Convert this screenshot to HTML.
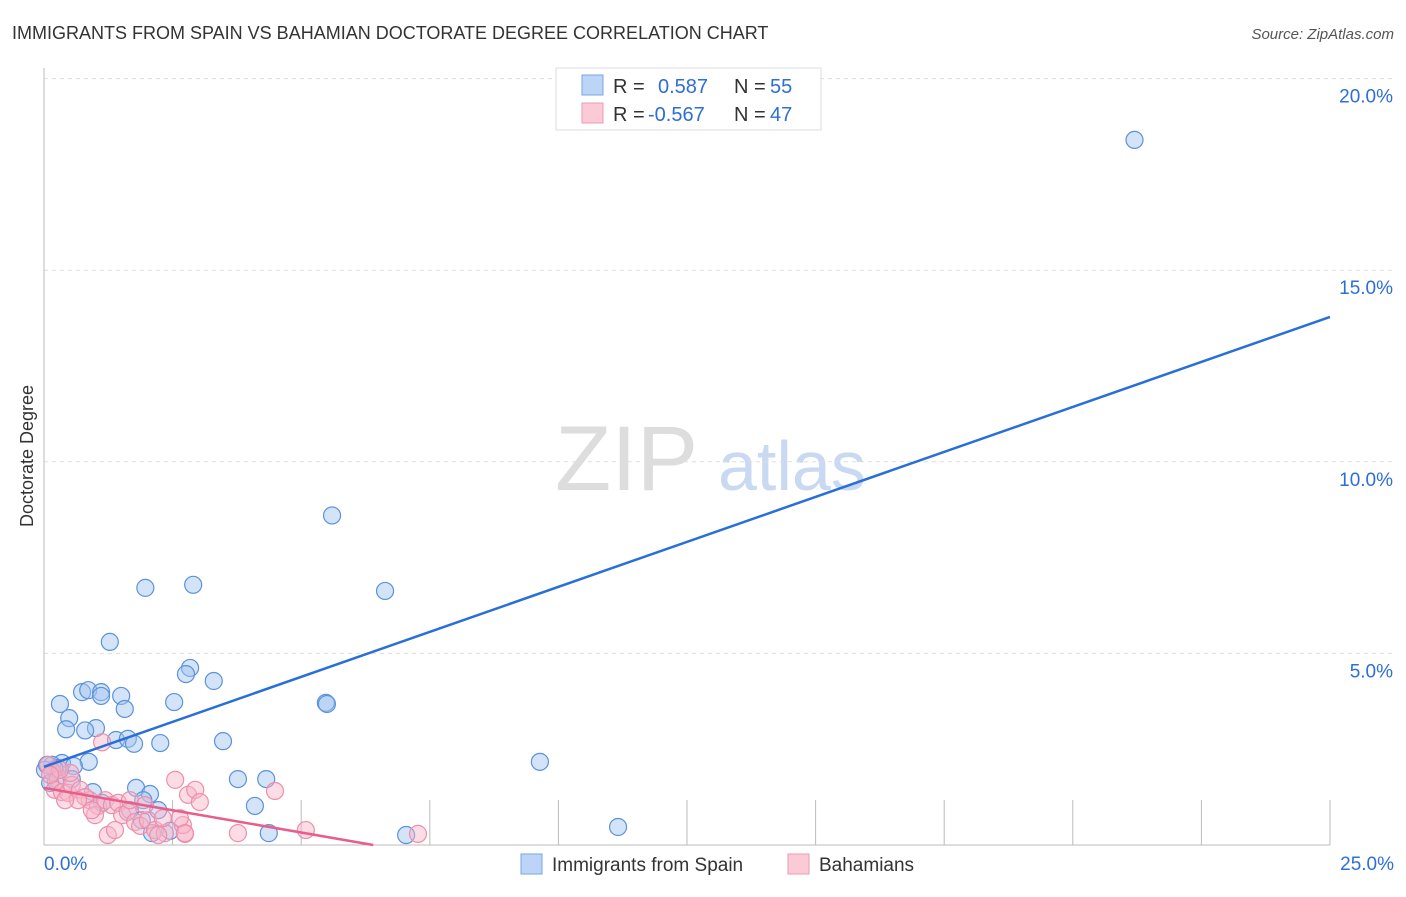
<!DOCTYPE html>
<html><head><meta charset="utf-8"><style>
body{margin:0;background:#fff;font-family:"Liberation Sans",sans-serif;}
svg text{font-family:"Liberation Sans",sans-serif;}
</style></head><body>
<svg id="chart" width="1406" height="892" viewBox="0 0 1406 892" xmlns="http://www.w3.org/2000/svg">
<text x="12" y="39" font-size="18" fill="#333">IMMIGRANTS FROM SPAIN VS BAHAMIAN DOCTORATE DEGREE CORRELATION CHART</text>
<text x="1394" y="39" font-size="15" fill="#555" font-style="italic" text-anchor="end">Source: ZipAtlas.com</text>
<text x="33" y="456" font-size="18" fill="#333" text-anchor="middle" transform="rotate(-90 33 456)">Doctorate Degree</text>
<g><text x="555" y="490" font-size="92" fill="#ddd" font-family="Liberation Serif,serif">ZIP</text><text x="718" y="490" font-size="70" fill="#c9d9f2">atlas</text></g>
<g id="grid"></g><g id="axes"></g><g id="marks"></g>
<g>
<rect x="556" y="68" width="265" height="62" fill="#fff" stroke="#ddd"/>
<rect x="582" y="75" width="21" height="20" fill="#bcd4f5" stroke="#7aa6e6"/>
<rect x="582" y="103" width="21" height="20" fill="#fbcad7" stroke="#ef9ab3"/>
<text x="613" y="93" font-size="20" fill="#333">R =</text><text x="658" y="93" font-size="20" fill="#2c6fd6">0.587</text>
<text x="734" y="93" font-size="20" fill="#333">N =</text><text x="770" y="93" font-size="20" fill="#2c6fd6">55</text>
<text x="613" y="121" font-size="20" fill="#333">R =</text><text x="648" y="121" font-size="20" fill="#2c6fd6">-0.567</text>
<text x="734" y="121" font-size="20" fill="#333">N =</text><text x="770" y="121" font-size="20" fill="#2c6fd6">47</text>
</g>
<g>
<rect x="521" y="854" width="21" height="20" fill="#bcd4f5" stroke="#7aa6e6"/>
<text x="552" y="871" font-size="19" fill="#333">Immigrants from Spain</text>
<rect x="788" y="854" width="21" height="20" fill="#fbcad7" stroke="#ef9ab3"/>
<text x="819" y="871" font-size="19" fill="#333">Bahamians</text>
</g>
</svg>
<script>
const xTicks=[0,5,10,15,20,25];
const yTicks=[5,10,15,20];
const yTickLabels=["5.0%","10.0%","15.0%","20.0%"];
const spainX=[21.2,5.6,2.9,1.97,6.63,1.28,2.84,2.76,3.3,5.48,5.5,0.31,0.74,0.86,1.11,1.11,1.5,1.57,2.53,0.49,1.01,0.8,0.43,1.4,1.63,1.75,2.26,3.48,0.87,0.35,0.16,0.27,0.58,0.23,0.54,0.95,1.79,2.06,3.77,4.32,9.64,1.67,4.1,1.93,2.22,11.16,1.9,2.45,2.1,4.37,7.04,1.13,0.21,0.02,0.12,0.06];
const spainY=[18.4,8.6,6.79,6.71,6.63,5.3,4.62,4.46,4.28,3.71,3.68,3.68,3.99,4.04,3.99,3.89,3.89,3.55,3.73,3.31,3.05,2.99,3.02,2.74,2.77,2.64,2.66,2.71,2.17,2.14,2.09,2.01,2.06,1.67,1.72,1.38,1.49,1.33,1.72,1.72,2.17,0.91,1.02,1.17,0.91,0.47,0.65,0.37,0.31,0.31,0.26,1.1,1.98,1.96,1.62,2.09];
const bahX=[0.08,0.16,0.27,0.21,0.35,0.47,0.54,0.7,0.89,1.05,1.19,1.32,1.44,1.52,1.63,1.77,1.87,2.02,2.16,2.35,2.55,2.8,2.94,3.03,3.77,4.49,5.09,7.27,1.24,2.22,2.74,2.31,2.7,1.13,0.99,0.51,0.8,0.31,0.66,1.38,1.67,1.96,2.64,2.74,0.12,0.41,0.93];
const bahY=[2.09,1.91,1.7,1.44,1.38,1.36,1.57,1.44,1.17,1.02,1.17,1.04,1.1,0.78,0.86,0.6,0.5,0.65,0.39,0.31,1.7,1.31,1.44,1.12,0.31,1.41,0.39,0.29,0.26,0.26,0.29,0.7,0.52,2.68,0.78,1.88,1.25,1.96,1.17,0.39,1.17,1.04,0.7,0.31,1.83,1.17,0.91];
const spainLine=[[0,2.04],[25,13.78]];
const bahLine=[[0,1.49],[6.4,0]];
const X0=44,X1=1330,Y0=845,YPX=38.32;
const sx=v=>X0+(X1-X0)*v/25;
const sy=v=>Y0-YPX*v;
const NS="http://www.w3.org/2000/svg";
function mk(t,a,p){const e=document.createElementNS(NS,t);for(const k in a)e.setAttribute(k,a[k]);p.appendChild(e);return e;}
const grid=document.getElementById('grid'),axes=document.getElementById('axes'),marks=document.getElementById('marks');
yTicks.forEach((v,i)=>{
 const l=mk('line',{x1:X0,x2:1394,y1:sy(v),y2:sy(v),stroke:'#ddd','stroke-dasharray':'4,4'},grid);
 
 
 const t=mk('text',{x:1393,y:sy(v)+24,'font-size':19,fill:'#2c6fd6','text-anchor':'end'},axes);
 t.textContent=yTickLabels[i];
 
 
});
const ax=mk('line',{x1:X0,x2:X0,y1:68,y2:Y0,stroke:'#bbb'},axes);


const bx=mk('line',{x1:X0,x2:X1,y1:Y0,y2:Y0,stroke:'#bbb'},axes);


for(let v=2.5;v<=25;v+=2.5){
 const tk=mk('line',{x1:sx(v),x2:sx(v),y1:Y0-45,y2:Y0,stroke:'#bbb'},axes);
 
 
}
[[0,'0.0%','start',44],[25,'25.0%','end',1394]].forEach(a=>{
 const t=mk('text',{x:a[3],y:870,'font-size':19,fill:'#2c6fd6','text-anchor':a[2]},axes);
 t.textContent=a[1];
 
 
});
spainX.forEach((x,i)=>{
 const c=mk('circle',{cx:sx(x),cy:sy(spainY[i]),r:8.5,fill:'rgba(160,195,240,0.45)',stroke:'#5b92dd','stroke-width':1.2},marks);
 
 
});
bahX.forEach((x,i)=>{
 const c=mk('circle',{cx:sx(x),cy:sy(bahY[i]),r:8.5,fill:'rgba(248,180,200,0.45)',stroke:'#ec8fab','stroke-width':1.2},marks);
 
 
});
const l1=mk('line',{x1:sx(spainLine[0][0]),y1:sy(spainLine[0][1]),x2:sx(spainLine[1][0]),y2:sy(spainLine[1][1]),stroke:'#2a6fd8','stroke-width':2.5},marks);


const l2=mk('line',{x1:sx(bahLine[0][0]),y1:sy(bahLine[0][1]),x2:sx(bahLine[1][0]),y2:sy(bahLine[1][1]),stroke:'#e85d8a','stroke-width':2.5},marks);


</script>
</body></html>
